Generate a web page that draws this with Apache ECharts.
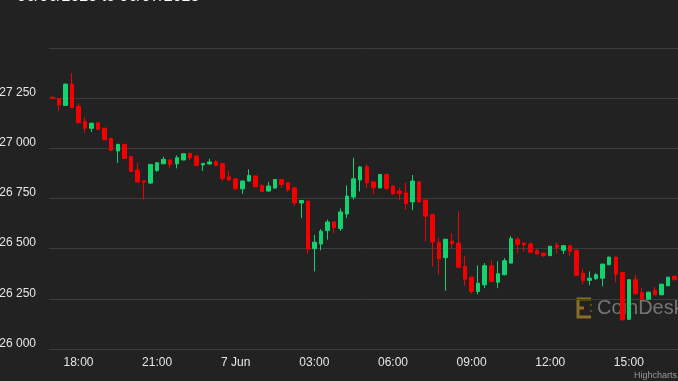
<!DOCTYPE html>
<html>
<head>
<meta charset="utf-8">
<script src="https://cdn.jsdelivr.net/npm/echarts@6/dist/echarts.min.js"></script>
<style>
html,body{margin:0;padding:0;background:#222222;}
#chart{width:678px;height:381px;}
</style>
</head>
<body>
<div id="chart"></div>
<script>
// 15-minute candles, 6 Jun 17:00 to 7 Jun 16:45
var times = [
'17:00','17:15','17:30','17:45','18:00','18:15','18:30','18:45','19:00','19:15','19:30','19:45',
'20:00','20:15','20:30','20:45','21:00','21:15','21:30','21:45','22:00','22:15','22:30','22:45',
'23:00','23:15','23:30','23:45','00:00','00:15','00:30','00:45','01:00','01:15','01:30','01:45',
'02:00','02:15','02:30','02:45','03:00','03:15','03:30','03:45','04:00','04:15','04:30','04:45',
'05:00','05:15','05:30','05:45','06:00','06:15','06:30','06:45','07:00','07:15','07:30','07:45',
'08:00','08:15','08:30','08:45','09:00','09:15','09:30','09:45','10:00','10:15','10:30','10:45',
'11:00','11:15','11:30','11:45','12:00','12:15','12:30','12:45','13:00','13:15','13:30','13:45',
'14:00','14:15','14:30','14:45','15:00','15:15','15:30','15:45','16:00','16:15','16:30','16:45'
];
var opens = [
27255,27248,27214,27320,27210,27133,27100,27127,27100,27050,26987,27020,
26958,26892,26838,26827,26890,26923,26942,26923,26942,26975,26962,26917,
26922,26933,26923,26858,26848,26798,26837,26862,26815,26787,26802,26845,
26828,26803,26728,26737,26500,26523,26590,26633,26600,26673,26757,26842,
26908,26833,26803,26870,26812,26787,26778,26733,26833,26742,26670,26532,
26455,26537,26528,26412,26358,26287,26320,26415,26333,26370,26428,26547,
26528,26523,26490,26478,26465,26517,26492,26515,26492,26378,26342,26350,
26353,26420,26458,26382,26148,26345,26282,26248,26292,26270,26315,26362
];
var closes = [
27250,27216,27320,27203,27127,27100,27125,27095,27043,26990,27020,26950,
26885,26832,26832,26920,26928,26945,26920,26953,26973,26953,26915,26925,
26932,26915,26850,26842,26798,26837,26865,26808,26785,26812,26845,26820,
26795,26728,26740,26498,26532,26587,26633,26605,26683,26762,26848,26907,
26828,26803,26870,26800,26773,26775,26725,26837,26733,26662,26533,26450,
26547,26525,26407,26348,26287,26328,26415,26337,26375,26440,26550,26522,
26520,26482,26473,26465,26512,26507,26515,26487,26367,26340,26353,26370,
26423,26458,26373,26145,26345,26275,26248,26283,26270,26323,26358,26345
];
var lows = [
27248,27186,27212,27200,27125,27078,27082,27093,27041,26988,26927,26948,
26883,26830,26745,26822,26883,26921,26903,26900,26940,26942,26913,26887,
26920,26913,26837,26838,26796,26773,26835,26806,26783,26785,26800,26803,
26783,26712,26653,26475,26387,26492,26545,26578,26588,26653,26745,26785,
26803,26770,26801,26792,26768,26742,26695,26692,26731,26537,26412,26370,
26290,26503,26405,26315,26275,26273,26303,26335,26303,26368,26426,26475,
26487,26480,26471,26458,26463,26478,26473,26465,26365,26323,26318,26345,
26312,26418,26333,26143,26146,26273,26246,26246,26268,26268,26313,26343
];
var highs = [
27258,27250,27322,27375,27223,27153,27128,27128,27102,27052,27022,27022,
26963,26927,26840,26922,26932,26958,26944,26965,26975,26978,26964,26927,
26948,26940,26925,26888,26850,26839,26895,26864,26822,26832,26847,26847,
26830,26805,26742,26739,26568,26597,26645,26635,26700,26815,26953,26912,
26920,26835,26872,26872,26815,26803,26828,26867,26835,26744,26672,26553,
26549,26578,26687,26462,26360,26417,26428,26442,26437,26453,26563,26557,
26530,26532,26500,26480,26514,26532,26517,26517,26494,26400,26387,26378,
26425,26460,26460,26384,26347,26370,26303,26285,26310,26325,26360,26368
];
var tickTimes = ['18:00','21:00','00:00','03:00','06:00','09:00','12:00','15:00'];
var tickLabels = ['18:00','21:00','7 Jun','03:00','06:00','09:00','12:00','15:00'];
var yTicks = [26000, 26250, 26500, 26750, 27000, 27250, 27500];
var titleText = '06/06/2023 to 06/07/2023';

var candleData = opens.map(function (o, i) { return [o, closes[i], lows[i], highs[i]]; });

var chart = echarts.init(document.getElementById('chart'), null, {renderer: 'canvas'});
var FONT = 'Arial, "Liberation Sans", Helvetica, sans-serif';
chart.setOption({
  backgroundColor: '#222222',
  animation: false,
  grid: {left: 49, right: 0, top: 48, bottom: 32, containLabel: false, outerBoundsMode: 'none'},
  xAxis: {
    type: 'category',
    data: times,
    boundaryGap: true,
    axisLine: {show: false},
    axisTick: {show: false},
    splitLine: {show: false},
    axisLabel: {
      interval: function (idx, val) { return tickTimes.indexOf(val) >= 0; },
      formatter: function (val) { var k = tickTimes.indexOf(val); return k >= 0 ? tickLabels[k] : ''; },
      color: '#e6e6e6', fontSize: 12, fontFamily: FONT, margin: 8
    }
  },
  yAxis: {
    type: 'value',
    min: yTicks[0], max: yTicks[yTicks.length - 1], interval: 250,
    axisLine: {show: false},
    axisTick: {show: false},
    splitLine: {show: true, lineStyle: {color: '#3d3d3d', width: 1}},
    axisLabel: {
      color: '#e6e6e6', fontSize: 12, fontFamily: FONT, margin: 13,
      verticalAlign: 'bottom', lineHeight: 11,
      formatter: function (v) {
        if (v === yTicks[yTicks.length - 1]) return '';
        var s = String(v);
        return s.slice(0, s.length - 3) + ' ' + s.slice(s.length - 3);
      }
    }
  },
  series: [{
    type: 'candlestick',
    data: candleData,
    barWidth: 4,
    itemStyle: {
      color: '#14d270', color0: '#f50000',
      borderColor: '#14d270', borderColor0: '#f50000', borderWidth: 1
    }
  }],
  graphic: [
    {type: 'text', x: 17, y: 5, style: {text: titleText, fill: '#ffffff', font: '16px ' + FONT, verticalAlign: 'bottom'}},
    {type: 'polyline', shape: {points: [[591, 299], [578, 299], [578, 317], [591, 317]]}, style: {stroke: '#8a6d28', lineWidth: 3, fill: null}},
    {type: 'polyline', shape: {points: [[578, 308], [584, 308]]}, style: {stroke: '#8a6d28', lineWidth: 3}},
    {type: 'circle', shape: {cx: 591, cy: 305, r: 1.2}, style: {fill: '#5e4b1c'}},
    {type: 'circle', shape: {cx: 591, cy: 311, r: 1.2}, style: {fill: '#5e4b1c'}},
    {type: 'text', x: 597, y: 308, style: {text: 'CoinDesk', fill: '#767676', font: '20px ' + FONT, verticalAlign: 'middle'}},
    {type: 'text', x: 634, y: 376, style: {text: 'Highcharts.com', fill: '#999999', font: '9px ' + FONT, verticalAlign: 'middle'}}
  ]
});
</script>
</body>
</html>
